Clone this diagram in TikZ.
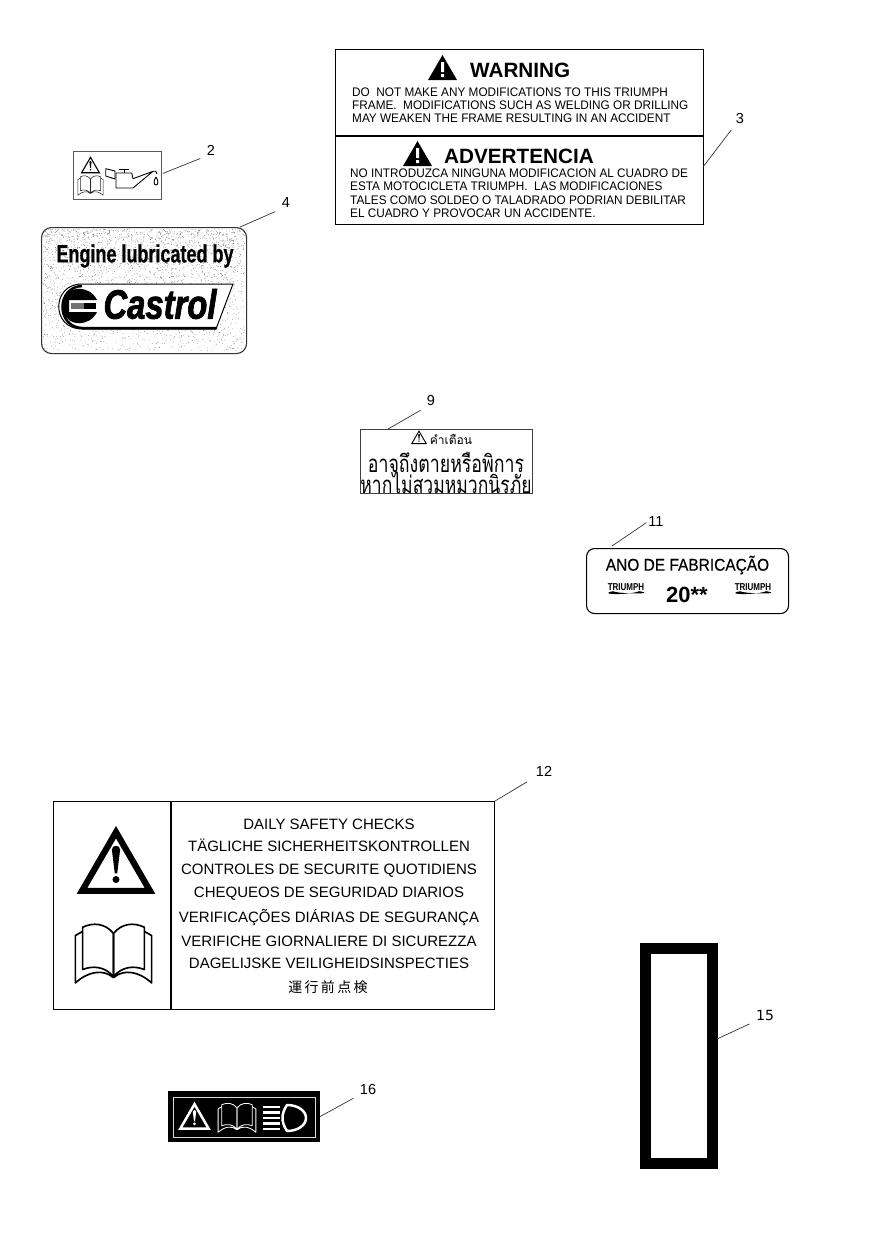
\documentclass[tikz,border=0pt]{standalone}
\usepackage{fontspec}
\setmainfont{Liberation Sans}
\newfontfamily\thaifont[Script=Thai]{Loma}
\newfontfamily\cjkfont{Noto Sans CJK JP}
\newfontfamily\dejafont{DejaVu Sans}
\newcommand{\fsize}[1]{\fontsize{#1}{#1}\selectfont}
\tikzset{
    panel/.style={draw, line width=1.1pt, anchor=north west, inner sep=0pt},
    leader/.style={draw, line width=0.7pt, black!80, shorten >=6pt},
    partno/.style={inner sep=1pt, font=\fsize{14.5}},
    bodyline/.style={anchor=base west, inner sep=0pt, font=\fsize{12.4}, xscale=0.95},
    checkline/.style={anchor=base, inner sep=0pt, font=\fsize{15}},
    bighead/.style={anchor=base west, inner sep=0pt, font=\fsize{20.7}\bfseries},
}
% warning triangle: centre x, top y, size, colour, stroke
\newcommand{\warnsign}[5]{
    \begin{scope}[shift={(#1,#2)}, scale=#3]
        \draw[#4, line width=#5, line join=miter] (0,5) -- (-33,62) -- (33,62) -- cycle;
        \fill[#4] (-4,22) .. controls (-4,17) and (4,17) .. (4,22) -- (1.2,45) -- (-1.2,45) -- cycle;
        \fill[#4] (0,51) circle (3.4);
    \end{scope}
}
% open book: centre x, centre y, size, colour
\newcommand{\openbook}[4]{
    \begin{scope}[shift={(#1,#2)}, scale=#3]
        \foreach \s in {1,-1} {
            \draw[#4, line width=#3*1.6pt, line join=round, xscale=\s]
                (0,-18) .. controls (-8,-28) and (-20,-29) .. (-30,-24) -- (-30,17)
                .. controls (-20,13) and (-8,14) .. (0,24) -- (0,-18)
                (-30,-20) -- (-37,-16) -- (-37,30)
                .. controls (-25,19) and (-10,16) .. (0,25);
        }
    \end{scope}
}
% triumph badge
\newcommand{\triumphlogo}[3]{
    \node[inner sep=0pt, font=\fsize{10}\bfseries, xscale=0.8] (#3) at (#1,#2) {TRIUMPH};
    \fill ([xshift=-13,yshift=-0.5]#3.south) .. controls +(6,3) and +(20,3) .. ([xshift=13,yshift=-0.5]#3.south)
        .. controls +(-8,3.8) and +(-18,3.8) .. ([xshift=-13,yshift=-0.5]#3.south);
}

\begin{document}
\begin{tikzpicture}[x=1pt, y=-1pt]
    \useasboundingbox (0,0) rectangle (884,1250);

    % part 2
    \node[panel, draw=black!65, line width=0.9pt, minimum width=88pt, minimum height=48pt] (panel2) at (73,151) {};
    \warnsign{90.5}{156}{0.27}{black}{1.1pt}
    \openbook{90.5}{185}{0.34}{black!85}
    \begin{scope}[line width=0.9pt, line join=round]
        \draw (105.7,168.7) -- (115,171) -- (115,179) -- (105.7,176) -- cycle;
        \draw (116,173) -- (116,188) -- (133,188) -- (153,171.3) -- (133,178.7) -- (131.7,173) -- cycle;
        \draw (124,173) -- (124,169.7) (119,169.7) -- (129,169.7);
        \draw (153,171.3) .. controls (155,170.5) and (157,171) .. (157,174);
        \draw (156,177) .. controls (153,181) and (154,185) .. (156,185) .. controls (158,185) and (159,181) .. (156,177);
    \end{scope}
    \node[partno] (num2) at (211,150) {2};
    \draw[leader] (panel2.east) ++(1,-2) coordinate (end2) (end2) -- (num2.south west);

    % part 4
    \node[panel, draw=black!80, minimum width=205pt, minimum height=126pt, rounded corners=10pt] (panel4) at (41,227) {};
    \pgfmathsetseed{11}
    \begin{scope}
        \clip[rounded corners=10pt] (panel4.north west) rectangle (panel4.south east);
        \fill[black!55] \foreach \i in {1,...,1700} { ({43+202*rnd},{229+122*rnd}) circle (0.38) };
        \fill[black!55] \foreach \i in {1,...,1100} { ({43+202*rnd},{229+122*rnd*rnd}) circle (0.38) };
    \end{scope}
    \node[inner sep=0pt, font=\fsize{25}\bfseries\addfontfeature{FakeBold=0.6}, xscale=0.72] (engine) at (145,256) {Engine lubricated by};
    \filldraw[fill=white, line width=1pt] (82,284) -- (233,284) -- (216,329) -- (82,329)
        .. controls (51,329) and (51,284) .. (82,284) -- cycle;
    \draw[line width=2.5pt] (216,328) -- (82,328) .. controls (56,327) and (56,287) .. (82,286);
    % castrol ball
    \fill (64,300) .. controls (67,285) and (90,285) .. (97,300) -- cycle;
    \fill (64,312) .. controls (67,327) and (90,327) .. (97,312) -- cycle;
    \fill (64,299) .. controls (62,303) and (62,309) .. (64,313) -- (69,313) -- (69,299) -- cycle;
    \fill (84,303) rectangle (96,309);
    \fill[black!55] (71,303) rectangle (84,309);
    \node[inner sep=0pt, font=\fsize{41}\bfseries\itshape\addfontfeature{FakeBold=2}, xscale=0.8] (castrol) at (160,304) {Castrol};
    \node[partno] (num4) at (286,203) {4};
    \draw[leader] (panel4.north east) ++(-7,0) coordinate (end4) (end4) -- (num4.south west);

    % part 3
    \node[panel, minimum width=368pt, minimum height=175pt] (panel3) at (335,49) {};
    \draw[line width=1.1pt] (panel3.north west |- 0,136) coordinate (div3) -- (panel3.north east |- 0,136);
    \fill (442.5,55) -- (428,80) -- (457,80) -- cycle;
    \fill[white] (441,62) rectangle (444,72) (441,74) rectangle (444,77);
    \node[bighead] (warn) at (470,77.5) {WARNING};
    \node[bodyline] (w1) at (352,96.5) {DO~~NOT MAKE ANY MODIFICATIONS TO THIS TRIUMPH};
    \node[bodyline] (w2) at (352,109.5) {FRAME.~~MODIFICATIONS SUCH AS WELDING OR DRILLING};
    \node[bodyline] (w3) at (352,122.5) {MAY WEAKEN THE FRAME RESULTING IN AN ACCIDENT};
    \fill (417.5,141) -- (403,166) -- (432,166) -- cycle;
    \fill[white] (416,148) rectangle (419,158) (416,160) rectangle (419,163);
    \node[bighead] (adv) at (444,163.5) {ADVERTENCIA};
    \node[bodyline] (a1) at (350,177.5) {NO INTRODUZCA NINGUNA MODIFICACION AL CUADRO DE};
    \node[bodyline] (a2) at (350,190.5) {ESTA MOTOCICLETA TRIUMPH.~~LAS MODIFICACIONES};
    \node[bodyline] (a3) at (350,204.5) {TALES COMO SOLDEO O TALADRADO PODRIAN DEBILITAR};
    \node[bodyline] (a4) at (350,217.5) {EL CUADRO Y PROVOCAR UN ACCIDENTE.};
    \node[partno] (num3) at (740,119) {3};
    \coordinate (end3) at (703,167);
    \draw[leader] (end3) -- (num3.south west);

    % part 9
    \node[panel, draw=black!75, line width=0.8pt, minimum width=172pt, minimum height=64pt] (panel9) at (360,429) {};
    \warnsign{419}{430}{0.22}{black}{0.9pt}
    \node[inner sep=0pt, font=\thaifont\fsize{12}] (thai1) at (451,439) {คำเตือน};
    \node[inner sep=0pt, font=\thaifont\fsize{24}, xscale=0.74] (thai2) at (446,462) {อาจถึงตายหรือพิการ};
    \node[inner sep=0pt, font=\thaifont\fsize{24}, xscale=0.73] (thai3) at (446,483) {หากไม่สวมหมวกนิรภัย};
    \node[partno] (num9) at (431,401) {9};
    \coordinate (end9) at (388,429);
    \draw[leader] (end9) -- (num9.south west);

    % part 11
    \node[panel, minimum width=202pt, minimum height=65pt, rounded corners=8pt] (panel11) at (586,548) {};
    \node[inner sep=0pt, font=\fsize{17}\addfontfeature{FakeBold=0.4}, xscale=0.91] (anotitle) at (687.5,565) {ANO DE FABRICAÇÃO};
    \node[inner sep=0pt, font=\fsize{22}\bfseries] (anoyear) at (687,595) {20**};
    \triumphlogo{626}{587}{tlogoa}
    \triumphlogo{753}{587}{tlogob}
    \node[partno] (num11) at (656,522) {11};
    \coordinate (end11) at (612,546);
    \draw[leader, shorten >=1pt] (end11) -- (num11.west);

    % part 12
    \node[panel, minimum width=441pt, minimum height=208pt] (panel12) at (53,801) {};
    \draw[line width=1.1pt] (171,801) coordinate (divtop) -- (171,1009) coordinate (divbot);
    \warnsign{116}{827}{1.03}{black}{6.2pt}
    \openbook{113.5}{952}{1.03}{black}
    \node[checkline] (c1) at (329,829.4) {DAILY SAFETY CHECKS};
    \node[checkline] (c2) at (329,851.4) {TÄGLICHE SICHERHEITSKONTROLLEN};
    \node[checkline] (c3) at (329,874.4) {CONTROLES DE SECURITE QUOTIDIENS};
    \node[checkline] (c4) at (329,897.4) {CHEQUEOS DE SEGURIDAD DIARIOS};
    \node[checkline] (c5) at (329,922.4) {VERIFICAÇÕES DIÁRIAS DE SEGURANÇA};
    \node[checkline] (c6) at (329,946.4) {VERIFICHE GIORNALIERE DI SICUREZZA};
    \node[checkline] (c7) at (329,968.4) {DAGELIJSKE VEILIGHEIDSINSPECTIES};
    \node[inner sep=0pt, font=\cjkfont\fsize{14}] (c8) at (328,987) {運\,行\,前\,点\,検};
    \node[partno] (num12) at (544,771) {12};
    \draw[leader, shorten >=9pt] (panel12.north east) -- (num12.south west);

    % part 15
    \node[panel, draw=black, line width=11pt, minimum width=67pt, minimum height=215pt] (panel15) at (640,943) {};
    \node[partno, font=\dejafont\fsize{14}] (num15) at (765,1015) {15};
    \coordinate (end15) at (717,1039);
    \draw[leader] (end15) -- (num15.south west);

    % part 16
    \node[panel, draw=black, fill=black, minimum width=151pt, minimum height=50pt] (panel16) at (168,1091) {};
    \draw[white!85!black, line width=0.7pt] (173,1097) rectangle (315,1137);
    \warnsign{194.5}{1102}{0.43}{white}{2.5pt}
    \openbook{237}{1117}{0.51}{white}
    \begin{scope}[white, line width=2.5pt]
        \foreach \y in {1107,1112.5,1118,1123.5,1129} {
            \draw (263,\y) -- (280,\y);
        }
        \draw[line join=round] (287,1105) .. controls (298,1105) and (306,1111) .. (306,1118)
            .. controls (306,1125) and (298,1131) .. (287,1131) .. controls (281,1122) and (281,1114) .. (287,1105) -- cycle;
    \end{scope}
    \node[partno] (num16) at (368,1089) {16};
    \draw[leader] (panel16.east) -- (num16.south west);
\end{tikzpicture}
\end{document}
